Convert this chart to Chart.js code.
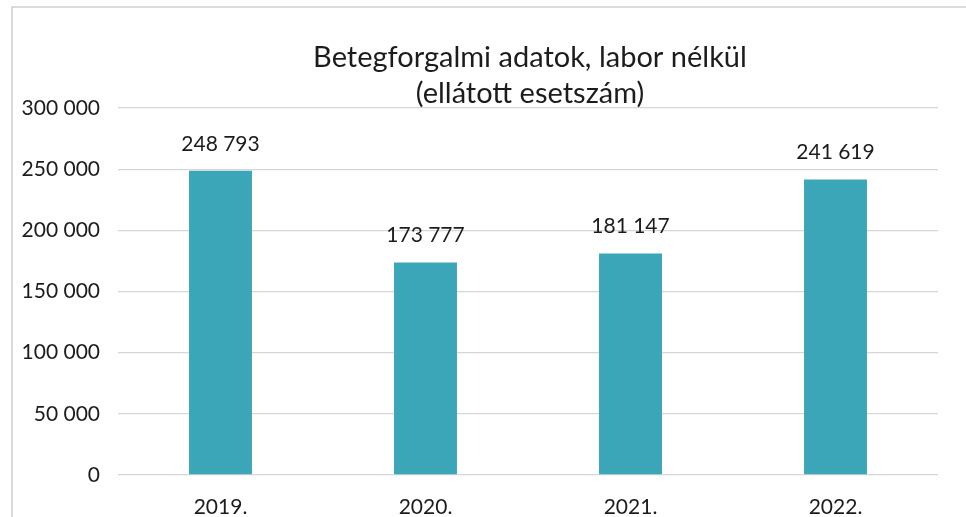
<!DOCTYPE html>
<html>
<head>
<meta charset="utf-8">
<script src="https://cdn.jsdelivr.net/npm/chart.js@4/dist/chart.umd.min.js"></script>
<style>
html, body { margin: 0; padding: 0; background: #fff; }
#wrap { width: 966px; height: 517px; position: relative; }
</style>
</head>
<body>
<div id="wrap"><canvas id="betegChart"></canvas></div>
<script>
// chart data
var years = ['2019.', '2020.', '2021.', '2022.'];
var cases = [248793, 173777, 181147, 241619];
var yTicks = [0, 50000, 100000, 150000, 200000, 250000, 300000];
var titleLines = ['Betegforgalmi adatok, labor nélkül', '(ellátott esetszám)'];

var FONT = 'Lato, "Open Sans", sans-serif';
var TEXT = '#1c1c1c';

function fmt(v) {
	return String(v).replace(/\B(?=(\d{3})+(?!\d))/g, ' ');
}

// frame + title drawn over the chart area
var decorPlugin = {
	id: 'decor',
	beforeDraw: function(chart) {
		var ctx = chart.ctx;
		ctx.save();
		ctx.fillStyle = '#fff';
		ctx.fillRect(0, 0, chart.width, chart.height);
		ctx.strokeStyle = '#cfcfcf';
		ctx.lineWidth = 1.5;
		ctx.beginPath();
		ctx.moveTo(12, chart.height);
		ctx.lineTo(12, 7);
		ctx.lineTo(chart.width, 7);
		ctx.stroke();
		ctx.restore();
	},
	afterDraw: function(chart) {
		var ctx = chart.ctx;
		var a = chart.chartArea;
		var cx = (a.left + a.right) / 2 + 2;
		ctx.save();
		ctx.fillStyle = TEXT;
		ctx.font = '29px ' + FONT;
		ctx.textAlign = 'center';
		ctx.textBaseline = 'alphabetic';
		ctx.fillText(titleLines[0], cx, 67);
		ctx.fillText(titleLines[1], cx, 103);
		ctx.restore();
	}
};

// value labels above bars
var valuePlugin = {
	id: 'values',
	afterDatasetsDraw: function(chart) {
		var ctx = chart.ctx;
		var meta = chart.getDatasetMeta(0);
		ctx.save();
		ctx.fillStyle = TEXT;
		ctx.font = '21px ' + FONT;
		ctx.textAlign = 'center';
		ctx.textBaseline = 'alphabetic';
		meta.data.forEach(function(bar, i) {
			ctx.fillText(fmt(cases[i]), bar.x, bar.y - 20);
		});
		ctx.restore();
	}
};

var config = {
	type: 'bar',
	data: {
		labels: years,
		datasets: [{
			data: cases,
			backgroundColor: '#3aa6b8',
			barPercentage: 0.307,
			categoryPercentage: 1
		}]
	},
	options: {
		responsive: true,
		maintainAspectRatio: false,
		animation: false,
		layout: { padding: { left: 12, top: 108, right: 28, bottom: 0 } },
		plugins: {
			legend: { display: false },
			title: { display: false },
			tooltip: { enabled: false }
		},
		scales: {
			x: {
				grid: { display: false, drawTicks: false },
				border: { display: false },
				ticks: { color: TEXT, font: { family: FONT, size: 21 }, padding: 20 },
				afterFit: function(s) { s.height = 42; }
			},
			y: {
				min: 0,
				max: 300000,
				afterBuildTicks: function(s) {
					s.ticks = yTicks.map(function(v) { return { value: v }; });
				},
				grid: { color: '#d6d6d6', lineWidth: 1.3, drawTicks: false },
				border: { display: false },
				ticks: {
					color: TEXT,
					font: { family: FONT, size: 21 },
					padding: 18,
					callback: function(v) { return fmt(v); }
				},
				afterFit: function(s) { s.width = 106; }
			}
		}
	},
	plugins: [decorPlugin, valuePlugin]
};

window.onload = function() {
	var ctx = document.getElementById('betegChart').getContext('2d');
	window.betegChart = new Chart(ctx, config);
};
</script>
</body>
</html>
